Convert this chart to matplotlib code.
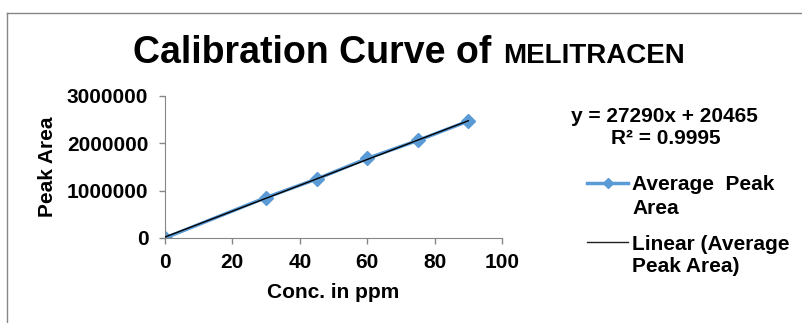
import numpy as np
import matplotlib.pyplot as plt
from matplotlib.lines import Line2D

# data
conc = [0, 30, 45, 60, 75, 90]
peak_area = [0, 855000, 1245000, 1680000, 2060000, 2470000]
slope = 27290
intercept = 20465
r_squared = 0.9995

x_ticks = [0, 20, 40, 60, 80, 100]
y_ticks = [0, 1000000, 2000000, 3000000]

plt.rcParams['font.family'] = ['Liberation Sans', 'DejaVu Sans']
plt.rcParams['font.weight'] = 'bold'

W, H = 802, 323
fig = plt.figure(figsize=(W / 100, H / 100), dpi=100)
ax = fig.add_axes([0.2057, 0.2632, 0.4202, 0.4396])

blue = '#5B9BD5'
grey = '#868686'

ax.plot(conc, peak_area, color=blue, lw=2.5, marker='D', ms=7, zorder=2)
fit_x = np.array([conc[0], conc[-1]])
ax.plot(fit_x, slope * fit_x + intercept, color='black', lw=1, zorder=3)

ax.set_xlim(0, 100)
ax.set_ylim(0, 3000000)
ax.set_xticks(x_ticks)
ax.set_yticks(y_ticks)
ax.set_xticklabels([str(v) for v in x_ticks])
ax.set_yticklabels([str(v) for v in y_ticks])
ax.tick_params(labelsize=15, color=grey, length=4, width=1)
ax.tick_params(axis='y', pad=8)
ax.tick_params(axis='x', pad=7)
for s in ['top', 'right']:
    ax.spines[s].set_visible(False)
for s in ['left', 'bottom']:
    ax.spines[s].set_color(grey)

ax.set_xlabel('Conc. in ppm', fontsize=15, fontweight='bold', labelpad=8)
ax.set_ylabel('Peak Area', fontsize=15, fontweight='bold', labelpad=7)

# title in two sizes
fig.text(133 / W, 1 - 63 / H, 'Calibration Curve of', fontsize=27,
         fontweight='bold', ha='left', va='baseline')
fig.text(503 / W, 1 - 63 / H, 'MELITRACEN', fontsize=20,
         fontweight='bold', ha='left', va='baseline')

# trendline equation
fig.text(664 / W, 1 - 117 / H, f'y = {slope}x + {intercept}',
         fontsize=15, fontweight='bold', ha='center', va='center')
fig.text(666 / W, 1 - 138 / H, f'R² = {r_squared}',
         fontsize=15, fontweight='bold', ha='center', va='center')

# legend, Excel style: handle level with the first text line
legend_rows = [
    (183, ['Average  Peak', 'Area'], dict(color=blue, lw=2.5)),
    (242, ['Linear (Average', 'Peak Area)'], dict(color='#222222', lw=1)),
]
for y, lines, style in legend_rows:
    fy = 1 - y / H
    fig.add_artist(Line2D([587 / W, 628 / W], [fy, fy], **style))
    if style['color'] == blue:
        fig.add_artist(Line2D([607.5 / W], [fy], marker='D', ms=5,
                              color=blue, lw=0))
    for k, txt in enumerate(lines):
        fig.text(632 / W, 1 - (y + 2 + 23 * k) / H, txt, fontsize=15,
                 fontweight='bold', ha='left', va='center')

# chart frame
fig.add_artist(Line2D([7 / W, 1], [1 - 13 / H] * 2, color=grey, lw=1))
fig.add_artist(Line2D([7 / W] * 2, [0, 1 - 13 / H], color=grey, lw=1))

fig.savefig('out.png', dpi=100)
